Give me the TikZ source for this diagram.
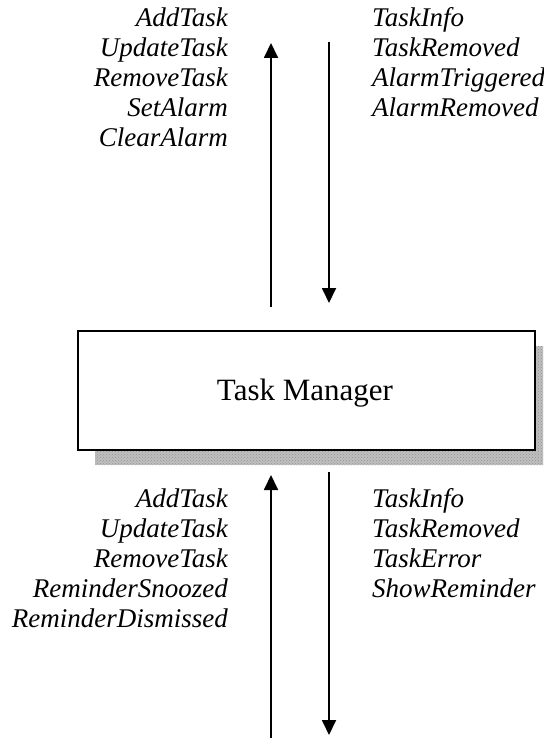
\documentclass[tikz,border=0pt]{standalone}
\usepackage{fontspec}
\setmainfont{Liberation Serif}
\usetikzlibrary{arrows.meta,calc,patterns}
\tikzset{
  msg/.style={font=\fontsize{27}{30}\selectfont\itshape, inner sep=0pt},
  flow/.style={line width=1.8pt, -{Triangle[length=15pt,width=14pt]}},
  module/.style={draw, line width=1.8pt, fill=white, minimum width=457pt, minimum height=119pt, inner sep=0pt},
  stipple/.style={fill=gray!50, postaction={pattern=crosshatch dots, pattern color=gray!85}},
}
\begin{document}
\begin{tikzpicture}[x=1pt,y=-1pt]
\useasboundingbox (0,0) rectangle (543,738);
\begin{scope}
  \clip (0,0) rectangle (543,738);
  % stippled drop shadow of the component box, cut off at the page edge
  \path[stipple] (95,346) rectangle (552,465);
  \node[module] (tm) at (306.5,390.5) {};
  \node[font=\fontsize{31}{33}\selectfont, inner sep=0pt, anchor=base] (tmlabel) at (305,400) {Task Manager};

  % connectors above the box
  \coordinate (upS) at (271,307);
  \coordinate (upE) at (271,43);
  \coordinate (dnS) at (329,42);
  \coordinate (dnE) at (329,303);
  \draw[flow] (upS) -- (upE);
  \draw[flow] (dnS) -- (dnE);

  % connectors below the box
  \coordinate (bupS) at (271,738);
  \coordinate (bupE) at (271,475);
  \coordinate (bdnS) at (329,472);
  \coordinate (bdnE) at (329,735);
  \draw[flow] (bupS) -- (bupE);
  \draw[flow] (bdnS) -- (bdnE);

  % message names
  \foreach \t [count=\i] in {AddTask,UpdateTask,RemoveTask,SetAlarm,ClearAlarm}
    \node[msg, anchor=base east] (inA\i) at (228,{27+30*(\i-1)}) {\t};
  \foreach \t [count=\i] in {TaskInfo,TaskRemoved,AlarmTriggered,AlarmRemoved}
    \node[msg, anchor=base west] (outA\i) at (372,{27+30*(\i-1)}) {\t};
  \foreach \t [count=\i] in {AddTask,UpdateTask,RemoveTask,ReminderSnoozed,ReminderDismissed}
    \node[msg, anchor=base east] (inB\i) at (228,{507+30*(\i-1)}) {\t};
  \foreach \t [count=\i] in {TaskInfo,TaskRemoved,TaskError,ShowReminder}
    \node[msg, anchor=base west] (outB\i) at (372,{507+30*(\i-1)}) {\t};
\end{scope}
\end{tikzpicture}
\end{document}
